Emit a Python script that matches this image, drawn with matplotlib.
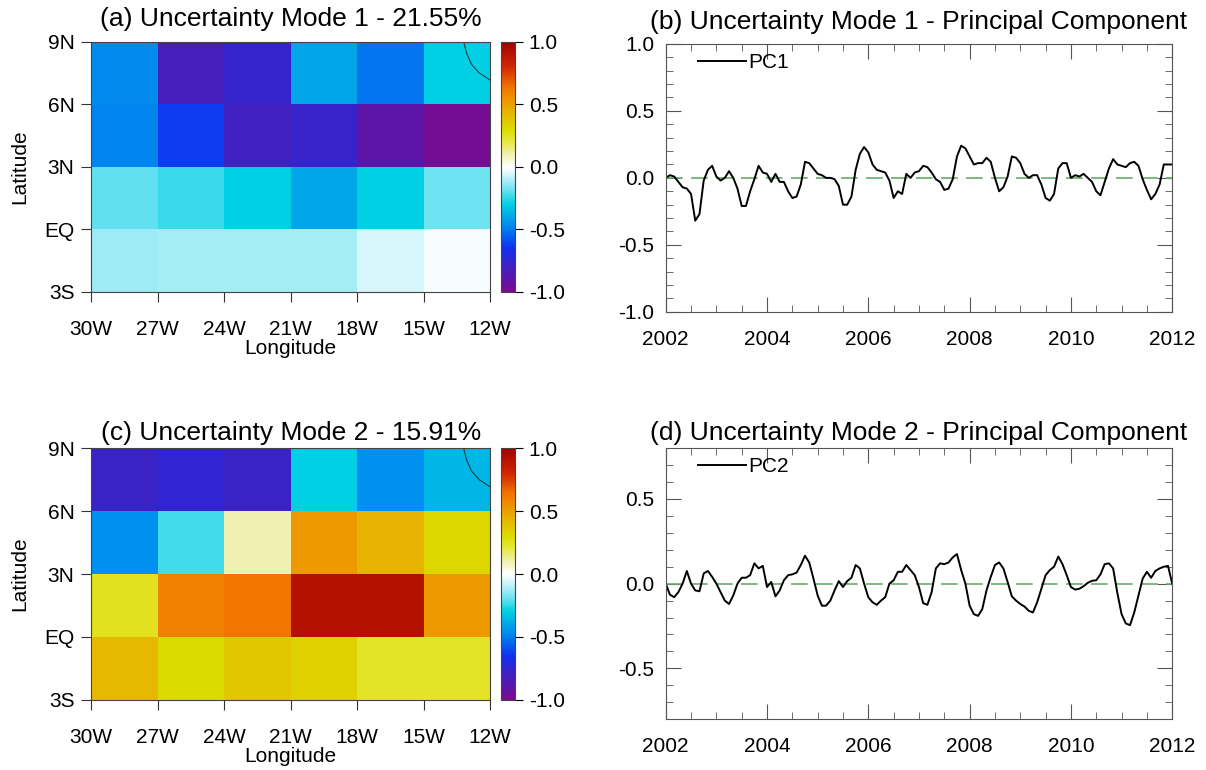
import numpy as np
import matplotlib
matplotlib.use("Agg")
import matplotlib.pyplot as plt
from matplotlib.colors import LinearSegmentedColormap
from matplotlib.ticker import MultipleLocator, FixedLocator, FixedFormatter

plt.rcParams['font.family'] = ['Liberation Sans', 'DejaVu Sans']
plt.rcParams['axes.unicode_minus'] = False

# grade dos mapas (bordas das celulas)
lon_bordas = [-30, -27, -24, -21, -18, -15, -12]
lat_bordas = [-3, 0, 3, 6, 9]
lon_rotulos = ['30W', '27W', '24W', '21W', '18W', '15W', '12W']
lat_rotulos = ['3S', 'EQ', '3N', '6N', '9N']

# modo 1 (linhas de sul para norte)
modo1 = [
    [-0.13, -0.12, -0.12, -0.12, -0.06, -0.01],
    [-0.20, -0.24, -0.30, -0.40, -0.30, -0.18],
    [-0.49, -0.63, -0.80, -0.77, -0.90, -0.98],
    [-0.47, -0.82, -0.76, -0.40, -0.52, -0.30],
]

# modo 2
modo2 = [
    [0.42, 0.30, 0.37, 0.34, 0.24, 0.24],
    [0.25, 0.60, 0.63, 0.92, 0.92, 0.52],
    [-0.46, -0.23, 0.10, 0.52, 0.44, 0.32],
    [-0.78, -0.75, -0.78, -0.30, -0.46, -0.36],
]

# linha de costa (canto nordeste)
costa_lon = [-13.2, -13.07, -12.84, -12.5, -12.0]
costa_lat = [9.0, 8.45, 7.9, 7.5, 7.15]

# componentes principais mensais, jan/2002 a jan/2012
pc1 = [0.00, 0.02, 0.01, -0.03, -0.07, -0.08, -0.12, -0.32, -0.27, -0.02, 0.06, 0.09,
       0.01, -0.02, 0.00, 0.05, 0.00, -0.08, -0.21, -0.21, -0.10, -0.01, 0.09, 0.04,
       0.03, -0.03, 0.03, -0.03, -0.03, -0.10, -0.15, -0.14, -0.05, 0.12, 0.11, 0.07,
       0.03, 0.02, 0.00, 0.00, -0.01, -0.06, -0.20, -0.20, -0.14, 0.06, 0.18, 0.23,
       0.19, 0.10, 0.06, 0.05, 0.04, -0.02, -0.15, -0.10, -0.12, 0.03, 0.00, 0.04,
       0.05, 0.09, 0.08, 0.04, -0.01, -0.03, -0.09, -0.08, -0.01, 0.16, 0.24, 0.22,
       0.16, 0.10, 0.11, 0.11, 0.15, 0.12, 0.00, -0.10, -0.07, 0.01, 0.16, 0.15,
       0.11, 0.03, 0.00, 0.02, 0.02, -0.05, -0.15, -0.17, -0.12, 0.07, 0.11, 0.11,
       0.00, 0.02, 0.01, 0.03, 0.00, -0.03, -0.10, -0.13, -0.03, 0.07, 0.14, 0.10,
       0.09, 0.08, 0.11, 0.12, 0.09, -0.01, -0.09, -0.16, -0.12, -0.05, 0.10, 0.10,
       0.10]

pc2 = [0.00, -0.065, -0.08, -0.05, 0.00, 0.075, 0.00, -0.04, -0.045, 0.06, 0.075, 0.04,
       0.00, -0.05, -0.10, -0.12, -0.07, 0.00, 0.035, 0.035, 0.05, 0.12, 0.09, 0.105,
       -0.02, 0.01, -0.075, -0.04, 0.02, 0.05, 0.055, 0.065, 0.11, 0.165, 0.125, 0.03,
       -0.07, -0.13, -0.13, -0.10, -0.04, 0.015, -0.02, 0.015, 0.035, 0.11, 0.09, 0.00,
       -0.08, -0.11, -0.125, -0.10, -0.08, 0.00, 0.02, 0.07, 0.07, 0.11, 0.08, 0.05,
       -0.02, -0.115, -0.125, -0.05, 0.09, 0.12, 0.115, 0.125, 0.155, 0.175, 0.08, 0.00,
       -0.13, -0.18, -0.19, -0.15, -0.04, 0.04, 0.11, 0.125, 0.09, 0.01, -0.075, -0.10,
       -0.12, -0.135, -0.16, -0.17, -0.11, -0.03, 0.05, 0.08, 0.10, 0.16, 0.115, 0.05,
       -0.02, -0.035, -0.03, -0.015, 0.005, 0.017, 0.02, 0.055, 0.115, 0.12, 0.09, -0.055,
       -0.18, -0.235, -0.245, -0.17, -0.07, 0.03, 0.07, 0.035, 0.075, 0.09, 0.10, 0.105,
       0.00]

tempo = 2002 + np.arange(len(pc1)) / 12.0

# paleta divergente roxo-azul-branco-amarelo-vermelho
cores = [(0.0, '#780a90'), (0.1, '#4020c0'), (0.175, '#1030f0'), (0.25, '#0080f0'),
         (0.3, '#00a8e8'), (0.35, '#00d0e4'), (0.4, '#60e0f0'), (0.45, '#b8f0f8'),
         (0.5, '#ffffff'), (0.55, '#f0f0b0'), (0.6, '#e8e840'), (0.65, '#dcdc00'),
         (0.725, '#e8b000'), (0.775, '#f09000'), (0.825, '#f07000'), (0.9, '#d02800'),
         (1.0, '#a00000')]
paleta = LinearSegmentedColormap.from_list('incerteza', cores)

fig = plt.figure(figsize=(12.06, 7.70), dpi=100)

TAM_TIT = 19
TAM_TICK = 15


def desenhar_mapa(pos_ax, pos_cb, dados, titulo, pad_tit):
    ax = fig.add_axes(pos_ax)
    malha = ax.pcolormesh(lon_bordas, lat_bordas, np.array(dados), cmap=paleta,
                          vmin=-1, vmax=1, shading='flat')
    ax.plot(costa_lon, costa_lat, color='#204040', lw=0.8)
    ax.set_xlim(-30, -12)
    ax.set_ylim(-3, 9)
    ax.xaxis.set_major_locator(FixedLocator(lon_bordas))
    ax.xaxis.set_major_formatter(FixedFormatter(lon_rotulos))
    ax.yaxis.set_major_locator(FixedLocator(lat_bordas))
    ax.yaxis.set_major_formatter(FixedFormatter(lat_rotulos))
    ax.tick_params(direction='out', length=7, labelsize=TAM_TICK, color='#333333')
    ax.tick_params(axis='x', pad=13)
    ax.tick_params(axis='y', pad=5)
    ax.set_xlabel('Longitude', fontsize=TAM_TICK, labelpad=0)
    ax.set_ylabel('Latitude', fontsize=TAM_TICK, labelpad=11)
    ax.set_title(titulo, fontsize=TAM_TIT, pad=pad_tit)
    for s in ax.spines.values():
        s.set_color('#444444')

    cax = fig.add_axes(pos_cb)
    cb = fig.colorbar(malha, cax=cax, ticks=[-1, -0.5, 0, 0.5, 1], format='%.1f')
    cb.ax.tick_params(direction='out', length=6, labelsize=TAM_TICK, pad=4)
    cb.outline.set_edgecolor('#444444')
    return ax


def desenhar_serie(pos_ax, serie, nome, titulo, ylim, yticks, pad_tit):
    ax = fig.add_axes(pos_ax)
    ax.axhline(0, color='#6aaa6a', lw=1.2, linestyle=(0, (10, 5)))
    ax.plot(tempo, serie, color='black', lw=1.4, label=nome)
    ax.set_xlim(2002, 2012)
    ax.set_ylim(*ylim)
    ax.set_xticks([2002, 2004, 2006, 2008, 2010, 2012])
    ax.xaxis.set_minor_locator(MultipleLocator(0.5))
    ax.set_yticks(yticks)
    ax.yaxis.set_minor_locator(MultipleLocator(0.1))
    ax.yaxis.set_major_formatter(plt.FormatStrFormatter('%.1f'))
    ax.tick_params(which='both', direction='in', top=True, right=True,
                   labelsize=TAM_TICK, color='#555555')
    ax.tick_params(which='major', length=11, pad=8)
    ax.tick_params(axis='x', which='major', pad=13)
    ax.tick_params(which='minor', length=5)
    ax.set_title(titulo, fontsize=TAM_TIT, pad=pad_tit)
    ax.legend(loc='upper left', frameon=False, fontsize=TAM_TICK, handlelength=2.3,
              handletextpad=0.1, borderaxespad=0.3, bbox_to_anchor=(0.035, 1.02))
    for s in ax.spines.values():
        s.set_color('#555555')
    return ax


desenhar_mapa([0.0755, 0.621, 0.331, 0.325], [0.4155, 0.621, 0.0115, 0.325],
              modo1, '(a) Uncertainty Mode 1 - 21.55%', 11)
desenhar_mapa([0.0755, 0.091, 0.331, 0.327], [0.4155, 0.091, 0.0115, 0.327],
              modo2, '(c) Uncertainty Mode 2 - 15.91%', 6)

desenhar_serie([0.552, 0.595, 0.420, 0.348], pc1, 'PC1',
               '(b) Uncertainty Mode 1 - Principal Component', (-1, 1),
               [-1, -0.5, 0, 0.5, 1], 11)
desenhar_serie([0.552, 0.066, 0.420, 0.352], pc2, 'PC2',
               '(d) Uncertainty Mode 2 - Principal Component', (-0.8, 0.8),
               [-0.5, 0, 0.5], 6)

fig.savefig('out.png', dpi=100)
